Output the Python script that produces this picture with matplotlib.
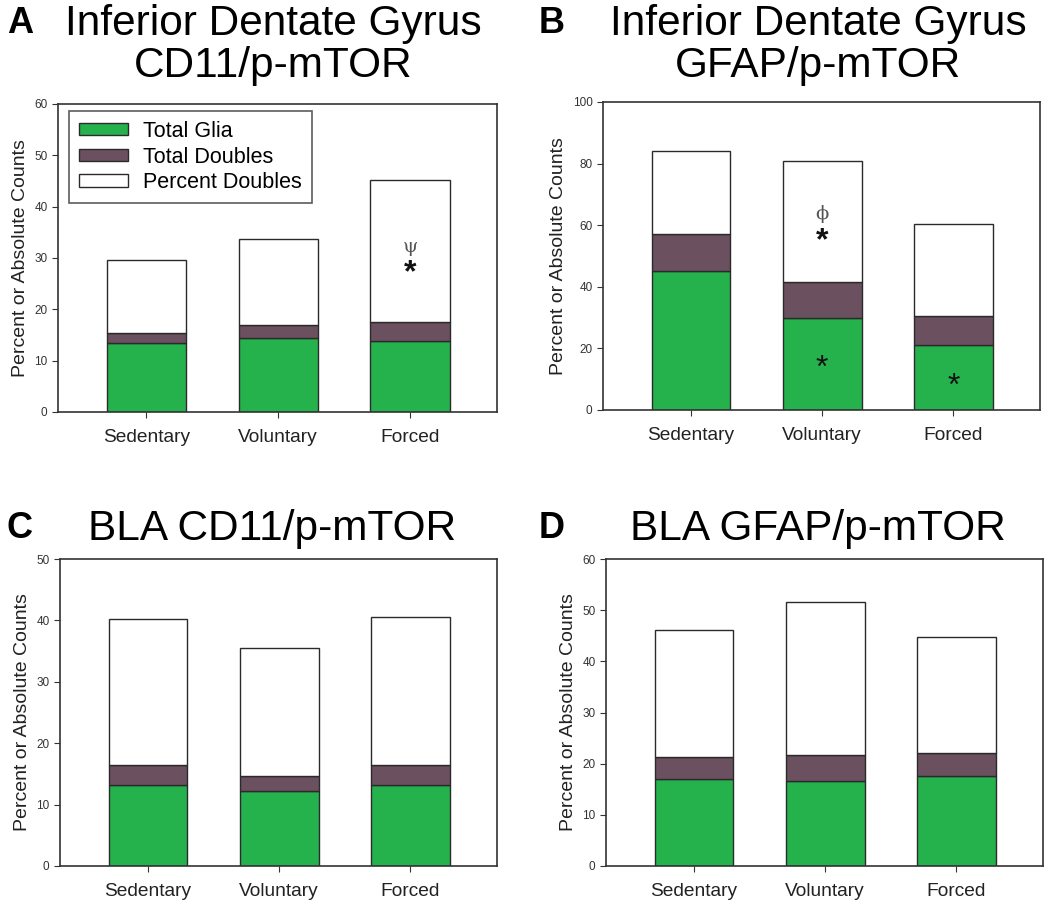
import matplotlib
matplotlib.use("Agg")
import matplotlib.pyplot as plt
import numpy as np

plt.rcParams['font.family'] = ['Liberation Sans', 'DejaVu Sans']

groups = ["Sedentary", "Voluntary", "Forced"]

# stacked segment heights per panel: glia, doubles, percent doubles
glia_a = [13.4, 14.5, 13.8]
doubles_a = [2.0, 2.4, 3.8]
percent_a = [14.2, 16.8, 27.5]

glia_b = [45.0, 29.8, 21.0]
doubles_b = [12.0, 11.9, 9.6]
percent_b = [27.0, 39.3, 29.7]

glia_c = [13.2, 12.2, 13.2]
doubles_c = [3.2, 2.4, 3.2]
percent_c = [23.9, 20.9, 24.1]

glia_d = [17.1, 16.6, 17.5]
doubles_d = [4.3, 5.0, 4.5]
percent_d = [24.8, 29.9, 22.7]

green = "#25B24D"
purple = "#6B5060"
edge = "#2a2a2a"

W, H = 1050, 910
fig = plt.figure(figsize=(W / 100, H / 100), dpi=100)


def px_axes(x0, y0, x1, y1):
    return fig.add_axes([x0 / W, 1 - y1 / H, (x1 - x0) / W, (y1 - y0) / H])


def panel(ax, glia, doubles, percent, ymax, step, legend=False):
    x = np.arange(len(groups))
    glia = np.array(glia)
    doubles = np.array(doubles)
    percent = np.array(percent)
    ax.bar(x, glia, 0.6, color=green, edgecolor=edge, linewidth=1, label="Total Glia")
    ax.bar(x, doubles, 0.6, bottom=glia, color=purple, edgecolor=edge, linewidth=1,
           label="Total Doubles")
    ax.bar(x, percent, 0.6, bottom=glia + doubles, color="white", edgecolor=edge,
           linewidth=1, label="Percent Doubles")
    ax.set_xlim(-0.67, 2.66)
    ax.set_ylim(0, ymax)
    ax.set_yticks(np.arange(0, ymax + 1, step))
    ax.set_xticks(x)
    ax.set_xticklabels(groups, fontsize=13.8)
    ax.tick_params(axis="y", labelsize=8.5, colors="#333333", length=4)
    ax.tick_params(axis="x", length=4, pad=8, colors="#333333", labelcolor="#222222")
    ax.set_ylabel("Percent or Absolute Counts", fontsize=14, color="#222222")
    for s in ax.spines.values():
        s.set_linewidth(1.2)
        s.set_color("#333333")
    if legend:
        leg = ax.legend(loc="upper left", bbox_to_anchor=(0.025, 0.977), fontsize=15.5,
                        frameon=True, fancybox=False, edgecolor="#333333",
                        handlelength=2.3, handleheight=0.5, borderpad=0.45,
                        labelspacing=0.22, handletextpad=0.7, borderaxespad=0)
        leg.get_frame().set_linewidth(1.2)


ax_a = px_axes(58, 104, 497, 412)
panel(ax_a, glia_a, doubles_a, percent_a, 60, 10, legend=True)
ax_a.text(2, 32.2, "ψ", ha="center", va="center", fontsize=14, color="#555555",
          family="DejaVu Serif")
ax_a.text(2, 27.0, "*", ha="center", va="center", fontsize=23, fontweight="bold",
          color="#111111")

ax_b = px_axes(603, 102, 1040, 410)
panel(ax_b, glia_b, doubles_b, percent_b, 100, 20)
ax_b.text(1, 63.6, "ϕ", ha="center", va="center", fontsize=14, color="#555555",
          family="DejaVu Serif")
ax_b.text(1, 54.8, "*", ha="center", va="center", fontsize=23, fontweight="bold",
          color="#111111")
ax_b.text(1, 13.4, "*", ha="center", va="center", fontsize=23, color="#111111")
ax_b.text(2, 7.6, "*", ha="center", va="center", fontsize=23, color="#111111")

ax_c = px_axes(60, 559, 497, 866)
panel(ax_c, glia_c, doubles_c, percent_c, 50, 10)

ax_d = px_axes(606, 559, 1043, 866)
panel(ax_d, glia_d, doubles_d, percent_d, 60, 10)

title_fs = 30.5
letter_fs = 26
fig.text(7 / W, 1 - 33 / H, "A", fontsize=letter_fs, fontweight="bold", va="baseline")
fig.text(273 / W, 1 - 35 / H, "Inferior Dentate Gyrus", fontsize=title_fs,
         ha="center", va="baseline")
fig.text(273 / W, 1 - 77 / H, "CD11/p-mTOR", fontsize=title_fs, ha="center",
         va="baseline")

fig.text(539 / W, 1 - 33 / H, "B", fontsize=letter_fs, fontweight="bold", va="baseline")
fig.text(818 / W, 1 - 35 / H, "Inferior Dentate Gyrus", fontsize=title_fs,
         ha="center", va="baseline")
fig.text(818 / W, 1 - 77 / H, "GFAP/p-mTOR", fontsize=title_fs, ha="center",
         va="baseline")

fig.text(7 / W, 1 - 538 / H, "C", fontsize=letter_fs, fontweight="bold", va="baseline")
fig.text(272 / W, 1 - 540 / H, "BLA CD11/p-mTOR", fontsize=title_fs,
         ha="center", va="baseline")

fig.text(539 / W, 1 - 538 / H, "D", fontsize=letter_fs, fontweight="bold", va="baseline")
fig.text(818 / W, 1 - 540 / H, "BLA GFAP/p-mTOR", fontsize=title_fs,
         ha="center", va="baseline")

fig.savefig("out.png", dpi=100)
